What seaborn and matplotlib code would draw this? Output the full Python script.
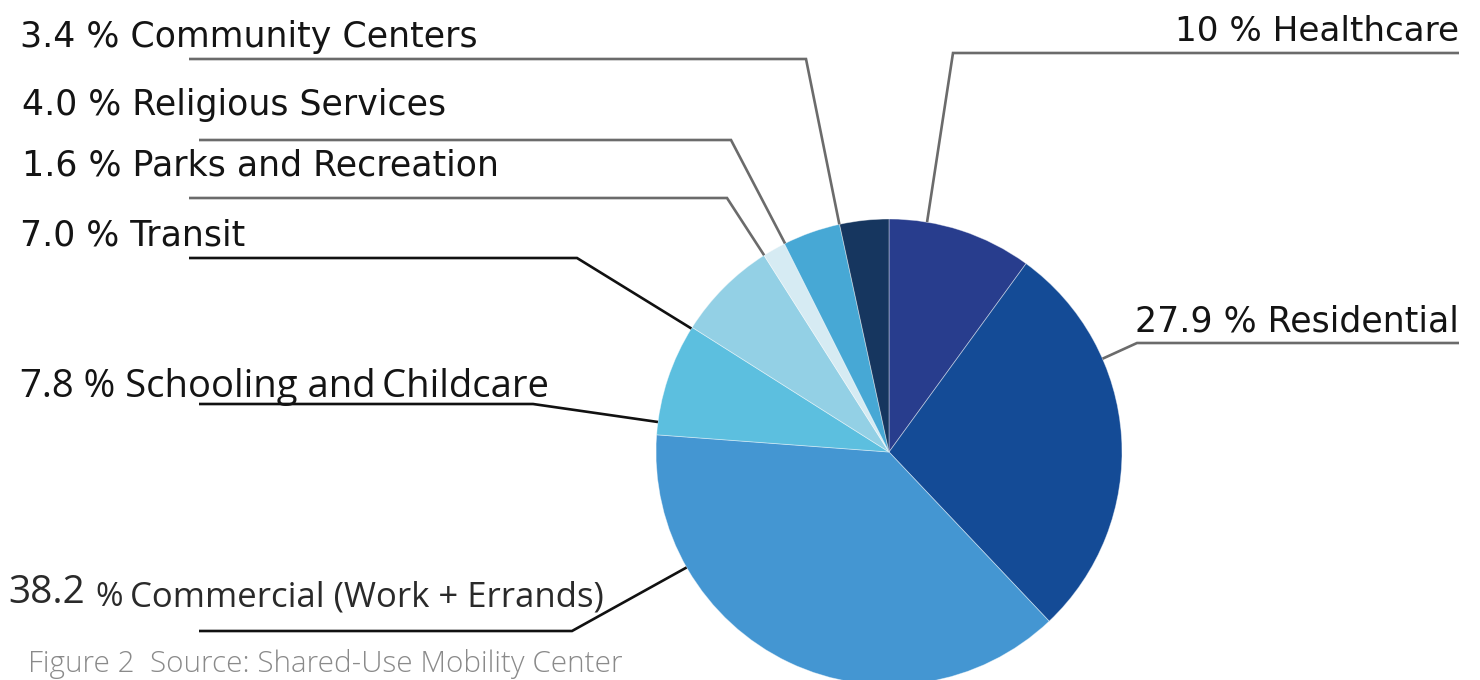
import numpy as np
import matplotlib
matplotlib.use("Agg")
import matplotlib.pyplot as plt
import seaborn as sns

# ---- data ----
categories = ["Healthcare", "Residential", "Commercial (Work + Errands)",
              "Schooling and\u2009Childcare", "Transit", "Parks and Recreation",
              "Religious Services", "Community Centers"]
shares = [10.0, 27.9, 38.2, 7.8, 7.0, 1.6, 4.0, 3.4]
share_labels = ["10", "27.9", "38.2", "7.8", "7.0", "1.6", "4.0", "3.4"]
colors = ["#283D8D", "#144B96", "#4496D2", "#5CBFDF", "#93D0E5", "#D6EBF3",
          "#47A8D5", "#16365F"]

sns.set_theme(style="white")
plt.rcParams['font.family'] = ['DejaVu Sans']

W, H = 1480, 680
fig = plt.figure(figsize=(W / 100, H / 100), dpi=100)
ax = fig.add_axes([0, 0, 1, 1])


def Y(p):
    return H - p


cx, cy, R = 889, 452, 233
ax.pie(shares, colors=colors, startangle=90, counterclock=False,
       center=(cx, Y(cy)), radius=R, normalize=True,
       wedgeprops=dict(linewidth=0.6, edgecolor=(1, 1, 1, 0.45)),
       frame=True)
ax.set_xlim(0, W)
ax.set_ylim(0, H)
ax.set_aspect("equal")
ax.axis("off")


def rim(angle_deg):
    a = np.deg2rad(angle_deg)
    return cx + R * np.sin(a), Y(cy) + R * np.cos(a)


GRAY = "#6b6b6b"
BLACK = "#111111"
# leader lines: (anchor angle clockwise from top, elbow x, elbow y, end x, color)
leaders = {
    0: (9.4, 953, 53, 1459, GRAY),
    1: (66.4, 1137, 343, 1459, GRAY),
    2: (240.3, 572, 631, 199, BLACK),
    3: (277.4, 533, 404, 199, BLACK),
    4: (302.0, 577, 258, 189, BLACK),
    5: (327.6, 727, 198, 189, GRAY),
    6: (333.5, 731, 140, 199, GRAY),
    7: (347.7, 806, 59, 189, GRAY),
}
for i, (ang, ex, ey, endx, col) in leaders.items():
    sx, sy = rim(ang)
    ax.plot([sx, ex, endx], [sy, Y(ey), Y(ey)], color=col, lw=1.9,
            solid_joinstyle="miter", solid_capstyle="butt", zorder=3)

TXT = "#141414"
FS = 25
# right side labels
ax.text(1459, Y(41), f"{share_labels[0]} % {categories[0]}", ha="right",
        va="baseline", fontsize=24.6, color=TXT)
ax.text(1459, Y(332), f"{share_labels[1]} % {categories[1]}", ha="right",
        va="baseline", fontsize=FS, color=TXT)
# left side labels
left_pos = {7: (20, 47), 6: (22, 115), 5: (22, 175), 4: (20, 245)}
for i, (x, y) in left_pos.items():
    ax.text(x, Y(y), f"{share_labels[i]} % {categories[i]}", ha="left",
            va="baseline", fontsize=FS, color=TXT)

ax.text(20, Y(397), f"{share_labels[3]} % {categories[3]}", ha="left",
        va="baseline", fontsize=27.5, color=TXT, family="Open Sans")

# commercial label in mixed sizes
CT = "#2a2a2a"
ax.text(8, Y(603), share_labels[2], ha="left", va="baseline", fontsize=28,
        color=CT, family="Open Sans")
ax.text(95, Y(606), "%", ha="left", va="baseline", fontsize=24,
        color=CT, family="Open Sans")
ax.text(130, Y(606), categories[2], ha="left", va="baseline", fontsize=25,
        color=CT, family="Open Sans")

# caption
ax.text(28, Y(672), "Figure 2  Source: Shared-Use Mobility Center",
        ha="left", va="baseline", fontsize=21.3, color="#8a8a8a",
        family="Open Sans", fontweight="light")

fig.savefig("out.png", dpi=100)
